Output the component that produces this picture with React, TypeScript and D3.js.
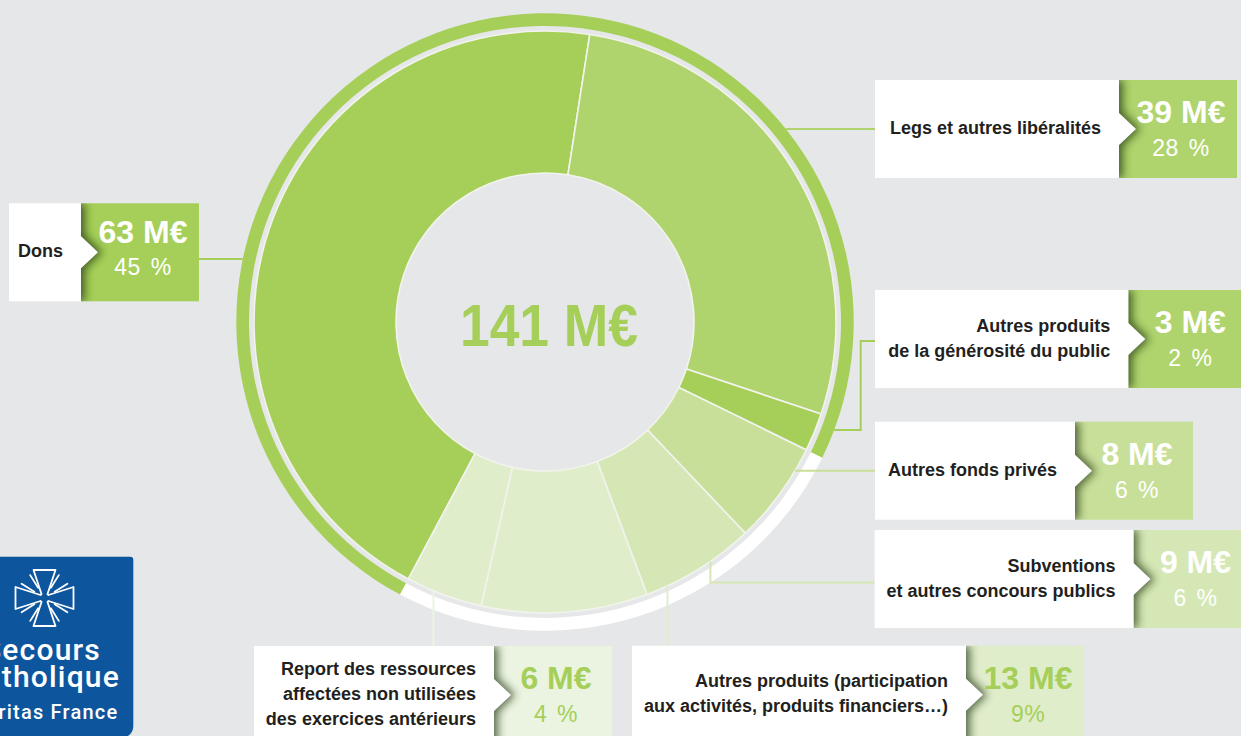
import React from 'react';
import * as d3 from 'd3';

// ---------- DATA ----------
const categories = [
  'Dons',
  'Legs et autres libéralités',
  'Autres produits de la générosité du public',
  'Autres fonds privés',
  'Subventions et autres concours publics',
  'Autres produits (participation aux activités, produits financiers…)',
  'Report des ressources affectées non utilisées des exercices antérieurs',
];
const labelLines = [
  ['Dons'],
  ['Legs et autres libéralités'],
  ['Autres produits', 'de la générosité du public'],
  ['Autres fonds privés'],
  ['Subventions', 'et autres concours publics'],
  ['Autres produits (participation', 'aux activités, produits financiers…)'],
  ['Report des ressources', 'affectées non utilisées', 'des exercices antérieurs'],
];
const valuesME = [63, 39, 3, 8, 9, 13, 6];
const percentLabels = ['45 %', '28 %', '2 %', '6 %', '6 %', '9%', '4 %'];
const totalLabel = '141 M€';
const logoLines = ['Secours', 'Catholique', 'Caritas France'];
const publicGenerosityCount = 3; // first three categories form the green outer ring

// ---------- STYLES ----------
const BG = '#e6e7e8';
const segmentColors = ['#a5cf58', '#afd46d', '#a5cf58', '#c8df99', '#d5e7b4', '#e0edcb', '#e0edcb'];
const boxColors = ['#a5cf58', '#afd46d', '#afd46d', '#c8df99', '#d5e7b4', '#e0edcb', '#ebf4e1'];
const connectorColors = ['#a5cf58', '#afd46d', '#a5cf58', '#c8df99', '#d5e7b4', '#e0edcb', '#ebf4e1'];
const valueTextColors = ['#ffffff', '#ffffff', '#ffffff', '#ffffff', '#ffffff', '#a5cf58', '#a5cf58'];
const ringColors = ['#a5cf58', '#ffffff'];

// ---------- LAYOUT ----------
const W = 1241;
const H = 736;
const cx = 545;
const cy = 322;
const rInner = 149;
const rOuter = 291;
const ringInner = 296;
const ringOuter = 308.7;
const deg = Math.PI / 180;

type Conn =
  | { type: 'hl'; y: number; r: number }
  | { type: 'hr'; y: number; r: number }
  | { type: 'elbow'; y1: number; xv: number; y2: number; r: number }
  | { type: 'vh'; x: number; y: number; r: number }
  | { type: 'v'; x: number; r: number };

const boxLayout: { x: number; y: number; w: number; vy?: number; py?: number; conn: Conn }[] = [
  { x: 9, y: 203.3, w: 72, vy: 40, py: 72, conn: { type: 'hl', y: 259, r: ringOuter } },
  { x: 875, y: 80, w: 244, conn: { type: 'hr', y: 129, r: ringOuter } },
  { x: 875, y: 290, w: 253.3, conn: { type: 'elbow', y1: 430, xv: 860.7, y2: 341, r: ringOuter } },
  { x: 875, y: 421.7, w: 200, conn: { type: 'hr', y: 470.7, r: rOuter } },
  { x: 874.7, y: 530, w: 258.8, conn: { type: 'vh', x: 710.4, y: 582.5, r: rOuter } },
  { x: 632, y: 645.7, w: 334, conn: { type: 'v', x: 667.5, r: rOuter } },
  { x: 254, y: 646, w: 240, conn: { type: 'v', x: 433.5, r: rOuter } },
];
const BOX_H = 98;
const GREEN_W = 118;
const ARROW_L = 17;
const ARROW_H = 17;

function connectorPath(c: Conn, b: { x: number; y: number; w: number }): string {
  const p = d3.path();
  if (c.type === 'hl') {
    const xe = cx - Math.sqrt(c.r * c.r - (c.y - cy) ** 2);
    p.moveTo(b.x + b.w + GREEN_W, c.y);
    p.lineTo(xe, c.y);
  } else if (c.type === 'hr') {
    const xe = cx + Math.sqrt(c.r * c.r - (c.y - cy) ** 2);
    p.moveTo(xe, c.y);
    p.lineTo(b.x, c.y);
  } else if (c.type === 'elbow') {
    const xe = cx + Math.sqrt(c.r * c.r - (c.y1 - cy) ** 2);
    p.moveTo(xe, c.y1);
    p.lineTo(c.xv, c.y1);
    p.lineTo(c.xv, c.y2);
    p.lineTo(b.x, c.y2);
  } else if (c.type === 'vh') {
    const ye = cy + Math.sqrt(c.r * c.r - (c.x - cx) ** 2);
    p.moveTo(c.x, ye);
    p.lineTo(c.x, c.y);
    p.lineTo(b.x, c.y);
  } else {
    const ye = cy + Math.sqrt(c.r * c.r - (c.x - cx) ** 2);
    p.moveTo(c.x, ye);
    p.lineTo(c.x, b.y);
  }
  return p.toString();
}

const FONT = "'Liberation Sans', Arial, Helvetica, sans-serif";

function Logo() {
  const lx = 44.5;
  const ly = 598;
  const crossPts: [number, number][] = [
    [-3, -4], [-11, -28], [11, -28], [3, -4],
    [4, -3], [29, -11], [29, 11], [4, 3],
    [3, 4], [11, 28], [-11, 28], [-3, 4],
    [-4, 3], [-29, 11], [-29, -11], [-4, -3],
  ];
  const crossPath = 'M' + crossPts.map(([a, b]) => `${lx + a},${ly + b}`).join('L') + 'Z';
  const rays: string[] = [];
  [45, 135, 225, 315].forEach((q) => {
    [-13, 13].forEach((o) => {
      const a = (q + o) * deg;
      const x1 = lx + Math.sin(a) * 12;
      const y1 = ly - Math.cos(a) * 12;
      const x2 = lx + Math.sin(a) * 27;
      const y2 = ly - Math.cos(a) * 27;
      rays.push(`M${x1},${y1}L${x2},${y2}`);
    });
  });
  return (
    <g>
      <path d="M -5 556.7 H 130.3 A 3 3 0 0 1 133.3 559.7 V 726 A 12 12 0 0 1 121.3 738 H -5 Z" fill="#0d569d" />
      <path d={crossPath} fill="none" stroke="#ffffff" strokeWidth={1.8} strokeLinejoin="round" />
      <path d={rays.join('')} stroke="#ffffff" strokeWidth={1.8} strokeLinecap="round" />
      <g fill="#ffffff" fontFamily="Roboto, 'Open Sans', sans-serif" fontWeight={500} textAnchor="end">
        <text x={101} y={660} fontSize={30} letterSpacing={1.2}>{logoLines[0]}</text>
        <text x={120} y={687} fontSize={30} letterSpacing={1.2}>{logoLines[1]}</text>
        <text x={118.3} y={719.3} fontSize={20} letterSpacing={1.2}>{logoLines[2]}</text>
      </g>
    </g>
  );
}

export default function App() {
  const pie = d3
    .pie<number>()
    .sort(null)
    .value((d) => d)
    .startAngle(-152 * deg)
    .endAngle(208 * deg);
  const arcs = pie(valuesME);
  const arc = d3.arc<d3.PieArcDatum<number>>().innerRadius(rInner).outerRadius(rOuter);
  const ringArc = d3.arc<any>().innerRadius(ringInner).outerRadius(ringOuter);
  const ringSegments = [
    { startAngle: arcs[0].startAngle, endAngle: arcs[publicGenerosityCount - 1].endAngle },
    { startAngle: arcs[publicGenerosityCount].startAngle, endAngle: arcs[arcs.length - 1].endAngle },
  ];

  return (
    <svg
      width={W}
      height={H}
      viewBox={`0 0 ${W} ${H}`}
      style={{ position: 'absolute', left: 0, top: 0, display: 'block' }}
    >
      <defs>
        <filter id="shadowBlur" x="-50%" y="-50%" width="200%" height="200%">
          <feGaussianBlur stdDeviation={4} />
        </filter>
        {boxLayout.map((b, i) => (
          <clipPath id={`greenClip${i}`} key={i}>
            <rect x={b.x + b.w} y={b.y} width={GREEN_W} height={BOX_H} />
          </clipPath>
        ))}
      </defs>
      <rect x={0} y={0} width={W} height={H} fill={BG} />

      {/* outer ring */}
      <g transform={`translate(${cx},${cy})`}>
        {ringSegments.map((s, i) => (
          <path key={i} d={ringArc(s) as string} fill={ringColors[i]} />
        ))}
        {arcs.map((a, i) => (
          <path
            key={categories[i]}
            d={arc(a) as string}
            fill={segmentColors[i]}
            stroke="#f1f3ec"
            strokeWidth={1.6}
            strokeLinejoin="round"
          />
        ))}
        <text
          x={4}
          y={24}
          textAnchor="middle"
          fontFamily={FONT}
          fontWeight={700}
          fontSize={60}
          fill="#a5cf58"
          textLength={178}
          lengthAdjust="spacingAndGlyphs"
        >
          {totalLabel}
        </text>
      </g>

      {/* connectors */}
      {boxLayout.map((b, i) => (
        <path
          key={'c' + i}
          d={connectorPath(b.conn, b)}
          fill="none"
          stroke={connectorColors[i]}
          strokeWidth={2}
        />
      ))}

      {/* boxes */}
      {boxLayout.map((b, i) => {
        const xs = b.x + b.w;
        const mid = b.y + BOX_H / 2;
        const shapePts = [
          [xs - 30, b.y],
          [xs, b.y],
          [xs, mid - ARROW_H],
          [xs + ARROW_L, mid],
          [xs, mid + ARROW_H],
          [xs, b.y + BOX_H],
          [xs - 30, b.y + BOX_H],
        ];
        const arrowPts = [
          [xs - 1, mid - ARROW_H],
          [xs + ARROW_L, mid],
          [xs - 1, mid + ARROW_H],
        ];
        const lines = labelLines[i];
        const firstY = b.y + 54 - (lines.length - 1) * 12.5;
        const vy = b.vy ?? 43;
        const py = b.py ?? 76;
        return (
          <g key={'b' + i}>
            <rect x={xs} y={b.y} width={GREEN_W} height={BOX_H} fill={boxColors[i]} />
            <g clipPath={`url(#greenClip${i})`}>
              <polygon
                points={shapePts.map((p) => p.join(',')).join(' ')}
                transform="translate(4,0)"
                fill="#1e3008"
                opacity={0.7}
                filter="url(#shadowBlur)"
              />
            </g>
            <rect x={b.x} y={b.y} width={b.w} height={BOX_H} fill="#ffffff" />
            <polygon points={arrowPts.map((p) => p.join(',')).join(' ')} fill="#ffffff" />
            <text
              textAnchor="end"
              fontFamily={FONT}
              fontWeight={700}
              fontSize={18}
              fill="#231f20"
            >
              {lines.map((l, k) => (
                <tspan key={k} x={xs - 18} y={firstY + k * 25}>
                  {l}
                </tspan>
              ))}
            </text>
            <text
              x={xs + 62}
              y={b.y + vy}
              textAnchor="middle"
              fontFamily={FONT}
              fontWeight={700}
              fontSize={32}
              fill={valueTextColors[i]}
            >
              {`${valuesME[i]} M€`}
            </text>
            <text
              x={xs + 62}
              y={b.y + py}
              textAnchor="middle"
              fontFamily={FONT}
              fontWeight={400}
              fontSize={23}
              letterSpacing={0.5}
              wordSpacing={3}
              fill={valueTextColors[i]}
            >
              {percentLabels[i]}
            </text>
          </g>
        );
      })}

      <Logo />
    </svg>
  );
}
